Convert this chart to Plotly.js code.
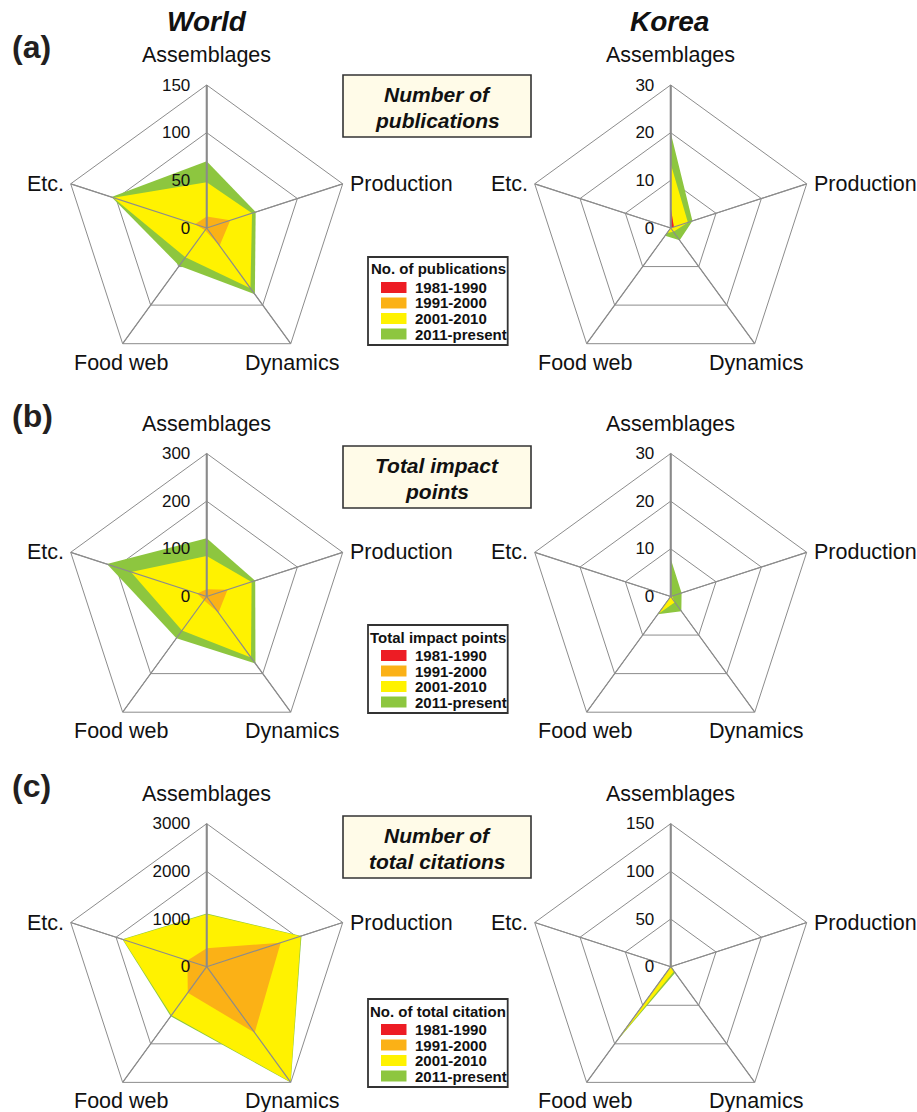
<!DOCTYPE html>
<html>
<head>
<meta charset="utf-8">
<script src="https://cdn.plot.ly/plotly-3.0.1.min.js"></script>
<style>
html,body{margin:0;padding:0;background:#fff;}
#chart{width:917px;height:1112px;}
</style>
</head>
<body>
<div id="chart"></div>
<script>
// ---------- DATA ----------
const categories = ['Assemblages', 'Production', 'Dynamics', 'Food web', 'Etc.'];
const periods = ['1981-1990', '1991-2000', '2001-2010', '2011-present'];
const periodColors = ['#ed1c24', '#fbb116', '#fff200', '#8dc63f'];

const columnTitles = ['World', 'Korea'];
const panelLetters = ['(a)', '(b)', '(c)'];
const metricTitles = [['Number of', 'publications'], ['Total impact', 'points'], ['Number of', 'total citations']];
const legendTitles = ['No. of publications', 'Total impact points', 'No. of total citation'];

// radial scale maxima
const worldMax = [150, 300, 3000];
const koreaMax = [30, 30, 150];

// (a) Number of publications - World
const worldPub1981 = [0, 0, 0, 0, 0];
const worldPub1991 = [12, 26, 23, 3, 13];
const worldPub2001 = [48, 50, 78, 38, 103];
const worldPub2011 = [70, 54, 86, 49, 105];
// (a) Number of publications - Korea
const koreaPub1981 = [4.3, 0.7, 0, 0, 0];
const koreaPub1991 = [4.3, 0.7, 0, 0, 0];
const koreaPub2001 = [13.5, 3.8, 1, 1.3, 0];
const koreaPub2011 = [20, 4.8, 3.2, 2, 0];

// (b) Total impact points - World
const worldImp1981 = [0, 0, 0, 0, 0];
const worldImp1991 = [15, 46, 42, 10, 21];
const worldImp2001 = [85, 99, 158, 88, 167];
const worldImp2011 = [122, 107, 174, 108, 220];
// (b) Total impact points - Korea
const koreaImp1981 = [0, 0, 0, 0, 0];
const koreaImp1991 = [0, 0, 0, 0, 0];
const koreaImp2001 = [0.3, 0.3, 1.5, 4.6, 0];
const koreaImp2011 = [7.9, 2.4, 3.8, 4.6, 0];

// (c) Number of total citations - World
const worldCit1981 = [0, 0, 0, 0, 0];
const worldCit1991 = [385, 1632, 1712, 675, 426];
const worldCit2001 = [1098, 2074, 2990, 1260, 1845];
const worldCit2011 = [1115, 2090, 3000, 1285, 1860];
// (c) Number of total citations - Korea
const koreaCit1981 = [0, 0, 0, 0, 0];
const koreaCit1991 = [0, 0, 0, 0, 0];
const koreaCit2001 = [5, 1, 6, 97, 0];
const koreaCit2011 = [5, 1, 8, 98, 0];

// ---------- LAYOUT HELPERS ----------
const W = 917, H = 1112;
const R = 143;
const colCx = [206.7, 670.7];
const rowCy = [228, 596.5, 966.7];
const px = x => x / W;
const py = y => 1 - y / H;

const panels = [
  {row: 0, col: 0, max: worldMax[0], series: [worldPub1981, worldPub1991, worldPub2001, worldPub2011]},
  {row: 0, col: 1, max: koreaMax[0], series: [koreaPub1981, koreaPub1991, koreaPub2001, koreaPub2011]},
  {row: 1, col: 0, max: worldMax[1], series: [worldImp1981, worldImp1991, worldImp2001, worldImp2011]},
  {row: 1, col: 1, max: koreaMax[1], series: [koreaImp1981, koreaImp1991, koreaImp2001, koreaImp2011]},
  {row: 2, col: 0, max: worldMax[2], series: [worldCit1981, worldCit1991, worldCit2001, worldCit2011]},
  {row: 2, col: 1, max: koreaMax[2], series: [koreaCit1981, koreaCit1991, koreaCit2001, koreaCit2011]}
];

const FONT = 'Liberation Sans, Arial, sans-serif';
const NARROW = 'Liberation Sans Narrow, Arial Narrow, Liberation Sans, sans-serif';
const GRID = '#8c8c8c';
const PAD = '\u00a0\u00a0';

const traces = [];
const layout = {
  width: W, height: H,
  margin: {l: 0, r: 0, t: 0, b: 0},
  paper_bgcolor: '#ffffff',
  showlegend: false,
  hovermode: false,
  annotations: [],
  shapes: []
};

panels.forEach((p, i) => {
  const key = i === 0 ? 'polar' : 'polar' + (i + 1);
  const sub = key;
  const cx = colCx[p.col], cy = rowCy[p.row];
  const step = p.max / 3;
  layout[key] = {
    domain: {x: [px(cx - R), px(cx + R)], y: [py(cy + R), py(cy - R)]},
    gridshape: 'linear',
    bgcolor: 'rgba(0,0,0,0)',
    radialaxis: {
      range: [0, p.max],
      tickvals: [0, step, 2 * step, 3 * step],
      ticktext: [0, step, 2 * step, 3 * step].map(v => String(Math.round(v)) + PAD),
      angle: 90,
      side: 'counterclockwise',
      tickangle: 90,
      showline: true,
      linecolor: '#8a8a8a',
      linewidth: 2,
      gridcolor: GRID,
      gridwidth: 1,
      ticks: '',
      tickfont: {family: FONT, size: 17, color: '#111'}
    },
    angularaxis: {
      type: 'category',
      categoryarray: categories,
      direction: 'clockwise',
      rotation: 90,
      showline: true,
      linecolor: GRID,
      linewidth: 1,
      gridcolor: GRID,
      gridwidth: 1,
      ticks: '',
      showticklabels: false
    }
  };
  // filled areas: latest (largest) period drawn first
  for (let s = 3; s >= 0; s--) {
    traces.push({
      type: 'scatterpolar',
      subplot: sub,
      r: p.series[s],
      theta: categories,
      mode: 'lines',
      fill: 'toself',
      fillcolor: periodColors[s],
      line: {width: 0, color: periodColors[s]},
      name: periods[s],
      hoverinfo: 'skip'
    });
  }
  // spokes drawn over the filled areas
  const sr = [], st = [];
  categories.forEach(c => { sr.push(0, p.max, null); st.push(c, c, c); });
  traces.push({
    type: 'scatterpolar', subplot: sub, r: sr, theta: st, mode: 'lines',
    line: {color: GRID, width: 1.2}, connectgaps: false, hoverinfo: 'skip'
  });

  // category labels
  const labelFont = {family: FONT, size: 21.5, color: '#111'};
  const c18 = Math.cos(18 * Math.PI / 180), s18 = Math.sin(18 * Math.PI / 180);
  const c54 = Math.cos(54 * Math.PI / 180), s54 = Math.sin(54 * Math.PI / 180);
  const lab = [
    {t: categories[0], x: cx, y: cy - R - 30, xa: 'center'},
    {t: categories[1], x: cx + c18 * R + 5, y: cy - s18 * R, xa: 'left'},
    {t: categories[2], x: cx + c54 * R + 1, y: cy + s54 * R + 19, xa: 'center'},
    {t: categories[3], x: cx - c54 * R - 2, y: cy + s54 * R + 19, xa: 'center'},
    {t: categories[4], x: cx - c18 * R - 5, y: cy - s18 * R, xa: 'right'}
  ];
  lab.forEach(l => layout.annotations.push({
    xref: 'paper', yref: 'paper', x: px(l.x), y: py(l.y), text: l.t,
    xanchor: l.xa, yanchor: 'middle', showarrow: false, font: labelFont
  }));
});

// column titles
columnTitles.forEach((t, j) => layout.annotations.push({
  xref: 'paper', yref: 'paper', x: px([206.7, 669][j]), y: py(22), text: '<b><i>' + t + '</i></b>',
  xanchor: 'center', yanchor: 'middle', showarrow: false,
  font: {family: FONT, size: 28, color: '#111'}
}));

// panel letters
const letterY = [46.7, 416, 786];
panelLetters.forEach((t, k) => layout.annotations.push({
  xref: 'paper', yref: 'paper', x: px(10), y: py(letterY[k]), text: '<b>' + t + '</b>',
  xanchor: 'left', yanchor: 'middle', showarrow: false,
  font: {family: FONT, size: 32, color: '#231f20'}
}));

// metric title boxes
const boxTop = [75, 446, 816];
metricTitles.forEach((lines, k) => {
  const y0 = boxTop[k], y1 = y0 + 62;
  layout.shapes.push({
    type: 'rect', xref: 'paper', yref: 'paper',
    x0: px(343), x1: px(531), y0: py(y1), y1: py(y0),
    fillcolor: '#fffbe8', line: {color: '#333333', width: 1.6}
  });
  lines.forEach((ln, m) => layout.annotations.push({
    xref: 'paper', yref: 'paper', x: px(437), y: py(y0 + 19.5 + m * 25.5),
    text: '<b><i>' + ln + '</i></b>', xanchor: 'center', yanchor: 'middle', showarrow: false,
    font: {family: FONT, size: 21, color: '#111'}
  }));
});

// legends
const legTop = [257, 625, 999];
legendTitles.forEach((title, k) => {
  const t = legTop[k];
  layout.shapes.push({
    type: 'rect', xref: 'paper', yref: 'paper',
    x0: px(368), x1: px(507.7), y0: py(t + 88), y1: py(t),
    fillcolor: '#ffffff', line: {color: '#333333', width: 1.8}
  });
  layout.annotations.push({
    xref: 'paper', yref: 'paper', x: px(438), y: py(t + 12),
    text: '<b>' + title + '</b>', xanchor: 'center', yanchor: 'middle', showarrow: false,
    font: {family: NARROW, size: 15, color: '#111'}
  });
  periods.forEach((per, s) => {
    const yc = t + 30.5 + s * 15.5;
    layout.shapes.push({
      type: 'rect', xref: 'paper', yref: 'paper',
      x0: px(381), x1: px(406.5), y0: py(yc + 5.5), y1: py(yc - 5.5),
      fillcolor: periodColors[s], line: {width: 0}
    });
    layout.annotations.push({
      xref: 'paper', yref: 'paper', x: px(413), y: py(yc),
      text: '<b>' + per + '</b>', xanchor: 'left', yanchor: 'middle', showarrow: false,
      font: {family: NARROW, size: 15, color: '#111'}
    });
  });
});

Plotly.newPlot('chart', traces, layout, {displayModeBar: false, staticPlot: true});
</script>
</body>
</html>
